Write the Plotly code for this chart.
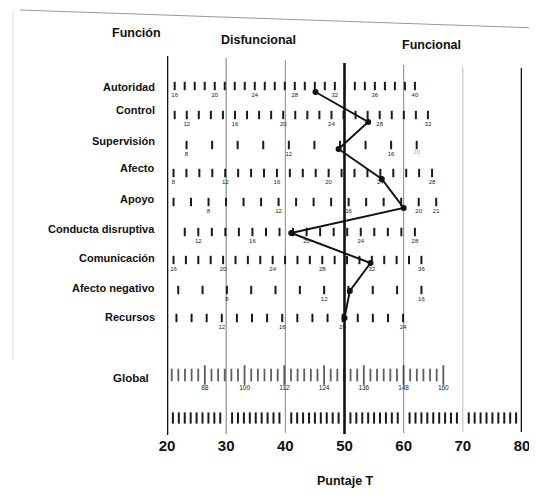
import numpy as np
import plotly.graph_objects as go

# ---------------- data read from the profile sheet ----------------
functions = ["Autoridad", "Control", "Supervisión", "Afecto", "Apoyo",
             "Conducta disruptiva", "Comunicación", "Afecto negativo", "Recursos"]
t_scores = [45.1, 54.0, 49.0, 56.3, 60.0, 41.0, 54.4, 50.9, 50.0]

# raw-score scale printed on each row (raw range and where it sits on the T axis)
raw_min = [16, 11, 8, 8, 6, 11, 16, 6, 9]
raw_max = [40, 32, 17, 28, 21, 28, 36, 16, 24]
t_at_raw_min = [21.3, 21.3, 23.3, 21.1, 21.1, 23.0, 21.1, 21.9, 21.6]
t_at_raw_max = [61.9, 64.1, 62.2, 64.8, 65.5, 61.9, 63.0, 63.0, 59.9]
raw_labels = [[16, 20, 24, 28, 32, 36, 40],
              [12, 16, 20, 24, 28, 32],
              [8, 12, 16],
              [8, 12, 16, 20, 24, 28],
              [8, 12, 16, 20, 21],
              [12, 16, 20, 24, 28],
              [16, 20, 24, 28, 32, 36],
              [8, 12, 16],
              [12, 16, 20, 24]]
faint_row, faint_raw, faint_text = 2, 17, "20"

global_raw_min, global_raw_max, global_raw_step = 78, 160, 2
global_t_min, global_t_max = 20.8, 66.7
global_labels = [88, 100, 112, 124, 136, 148, 160]

t_ticks = [20, 30, 40, 50, 60, 70, 80]
header_texts = ["Función", "Disfuncional", "Funcional"]

# ---------------- layout positions (page pixel units) ----------------
OX, OY = 8, 8                      # default page body margin
W, H = 529, 481
PLOT_L, PLOT_R = 167, 522          # page x of T=20 and T=80
PLOT_T, PLOT_B = 8, 435            # page y of plot area
ML, MR = PLOT_L - OX, OX + W - PLOT_R
MT, MB = PLOT_T - OY, OY + H - PLOT_B
PW, PH = PLOT_R - PLOT_L, PLOT_B - PLOT_T

tick_y = [86, 115, 145, 173, 202, 232, 260, 290, 318]
marker_y = [92, 122, 149, 179, 208, 233, 263, 291, 318]
name_y = [87, 110, 141, 168, 199, 229, 258, 288, 317]
label_dy = 9
global_y, global_name_y, global_label_y = 375, 378, 388
ruler_y = 418

vline_w = [2.6, 1.0, 1.0, 2.6, 1.0, 1.0, 2.6]
vline_c = ["#111", "#777", "#888", "#111", "#888", "#bbb", "#111"]
vline_top = [56, 58, 60, 63, 65, 67, 68]
vline_bot = [436, 434, 433, 434, 433, 432, 432]

FONT = "Liberation Sans, Arial, sans-serif"


def px_x(px):
    return (px - PLOT_L) / PW


def px_y(py):
    return 1 - (py - PLOT_T) / PH


def row_scale(i, raw):
    raw = np.asarray(raw, dtype=float)
    return t_at_raw_min[i] + (raw - raw_min[i]) * (t_at_raw_max[i] - t_at_raw_min[i]) / (raw_max[i] - raw_min[i])


fig = go.Figure()

# vertical reference lines
for t, w, c, y0, y1 in zip(t_ticks, vline_w, vline_c, vline_top, vline_bot):
    fig.add_trace(go.Scatter(x=[t, t], y=[y0, y1], mode="lines",
                             line=dict(color=c, width=w), hoverinfo="skip", showlegend=False))

# raw-score ticks and labels on each row
tx, ty, lx, ly, lt = [], [], [], [], []
for i in range(len(functions)):
    raws = np.arange(raw_min[i], raw_max[i] + 1)
    tx += list(row_scale(i, raws))
    ty += [tick_y[i]] * len(raws)
    lx += list(row_scale(i, raw_labels[i]))
    ly += [tick_y[i] + label_dy] * len(raw_labels[i])
    lt += [str(v) for v in raw_labels[i]]

fig.add_trace(go.Scatter(x=tx, y=ty, mode="markers",
                         marker=dict(symbol="line-ns", size=6, color="#1a1a1a",
                                     line=dict(width=2.0, color="#1a1a1a")),
                         hoverinfo="skip", showlegend=False, cliponaxis=False))
fig.add_trace(go.Scatter(x=lx, y=ly, mode="text", text=lt,
                         textfont=dict(family=FONT, size=6, color="#222"),
                         hoverinfo="skip", showlegend=False, cliponaxis=False))
fig.add_trace(go.Scatter(x=list(row_scale(faint_row, [faint_raw])), y=[tick_y[faint_row] + label_dy - 2],
                         mode="text", text=[faint_text],
                         textfont=dict(family=FONT, size=6, color="#aaa"),
                         hoverinfo="skip", showlegend=False, cliponaxis=False))

# Global row
g_raw = np.arange(global_raw_min, global_raw_max + 1, global_raw_step)
g_scale = lambda r: global_t_min + (np.asarray(r, dtype=float) - global_raw_min) * (global_t_max - global_t_min) / (global_raw_max - global_raw_min)
g_sizes = [14 if r in global_labels else 9 for r in g_raw]
fig.add_trace(go.Scatter(x=list(g_scale(g_raw)), y=[global_y] * len(g_raw), mode="markers",
                         marker=dict(symbol="line-ns", size=g_sizes, color="#1a1a1a",
                                     line=dict(width=1.8, color="#1a1a1a")),
                         hoverinfo="skip", showlegend=False, cliponaxis=False))
fig.add_trace(go.Scatter(x=list(g_scale(global_labels)), y=[global_label_y] * len(global_labels),
                         mode="text", text=[str(v) for v in global_labels],
                         textfont=dict(family=FONT, size=6.5, color="#222"),
                         hoverinfo="skip", showlegend=False, cliponaxis=False))

# bottom T ruler
ruler_t = [t for t in range(21, 80) if t % 10]
fig.add_trace(go.Scatter(x=ruler_t, y=[ruler_y] * len(ruler_t), mode="markers",
                         marker=dict(symbol="line-ns", size=8, color="#1a1a1a",
                                     line=dict(width=2.0, color="#1a1a1a")),
                         hoverinfo="skip", showlegend=False, cliponaxis=False))

# profile line
fig.add_trace(go.Scatter(x=t_scores, y=marker_y, mode="lines+markers",
                         line=dict(color="#111", width=1.9),
                         marker=dict(size=6, color="#111"),
                         hoverinfo="skip", showlegend=False, cliponaxis=False))

annotations = []
for name, yy in zip(functions, name_y):
    annotations.append(dict(text="<b>%s</b>" % name, xref="paper", yref="paper",
                            x=px_x(157), y=px_y(yy), xanchor="right", yanchor="middle",
                            showarrow=False, font=dict(family=FONT, size=11, color="#111")))
annotations.append(dict(text="<b>Global</b>", xref="paper", yref="paper",
                        x=px_x(151), y=px_y(global_name_y), xanchor="right", yanchor="middle",
                        showarrow=False, font=dict(family=FONT, size=11.5, color="#111")))
for txt, cx, cy in zip(header_texts, [136, 258, 431], [33, 40, 45]):
    annotations.append(dict(text="<b>%s</b>" % txt, xref="paper", yref="paper",
                            x=px_x(cx), y=px_y(cy), xanchor="center", yanchor="middle",
                            showarrow=False, font=dict(family=FONT, size=12.5, color="#111")))
annotations.append(dict(text="<b>Puntaje T</b>", xref="paper", yref="paper",
                        x=px_x(345), y=px_y(481), xanchor="center", yanchor="middle",
                        showarrow=False, font=dict(family=FONT, size=12.5, color="#111")))

shapes = [
    dict(type="line", xref="paper", yref="paper", x0=px_x(20), y0=px_y(10), x1=px_x(537), y1=px_y(28),
         line=dict(color="#999", width=1)),
    dict(type="line", xref="paper", yref="paper", x0=px_x(13), y0=px_y(12), x1=px_x(13), y1=px_y(360),
         line=dict(color="#ddd", width=1)),
]

fig.update_layout(
    width=W, height=H, autosize=False,
    margin=dict(l=ML, r=MR, t=MT, b=MB, pad=0),
    paper_bgcolor="white", plot_bgcolor="white",
    showlegend=False,
    xaxis=dict(range=[20, 80], tickvals=t_ticks, ticktext=["<b>%d</b>" % t for t in t_ticks],
               tickfont=dict(family=FONT, size=15, color="#111"), ticks="",
               showgrid=False, zeroline=False, showline=False, fixedrange=True),
    yaxis=dict(range=[PLOT_B, PLOT_T], visible=False, showgrid=False, zeroline=False, fixedrange=True),
    annotations=annotations, shapes=shapes,
)

fig.write_html("out.html")
